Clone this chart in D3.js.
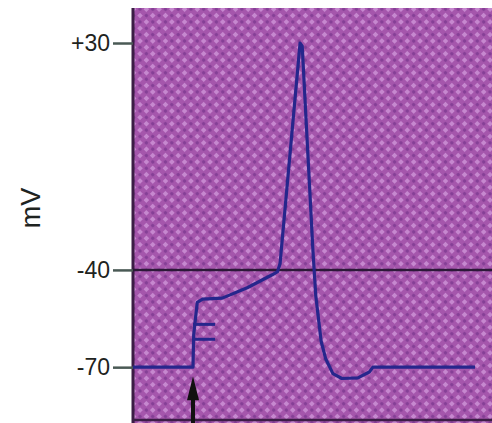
<!DOCTYPE html>
<html>
<head>
<meta charset="utf-8">
<script src="https://cdn.jsdelivr.net/npm/d3@7/dist/d3.min.js"></script>
<style>
  body { margin: 0; background: #fff; }
</style>
</head>
<body>
<div id="maincontainer"></div>
<script>
	// action potential trace, time in ms (arbitrary), voltage in mV
	let timeMs = [0, 1.68, 1.70, 1.80, 1.95, 2.50, 3.20, 3.90, 4.05, 4.12, 4.68, 4.74, 5.04, 5.12, 5.27, 5.40, 5.60, 5.85, 6.30, 6.62, 6.72, 9.58];
	let voltage = [-70, -70, -60, -50, -49, -48.7, -45.5, -41.5, -40.5, -38, 30, 29, -34, -48, -62, -67.5, -72, -73.5, -73.3, -71.5, -70, -70];

	// sub-threshold stimulus responses
	let subStart = [1.68, 1.68];
	let subEnd = [2.30, 2.30];
	let subVolts = [-56.8, -61.4];

	let tickValues = [30, -40, -70];
	let tickLabels = ["+30", "-40", "-70"];
	let thresholdMv = -40;
	let stimulusMs = 1.68;

	let width = 492;
	let height = 423;

	let svg = d3.select("#maincontainer")
		.append("svg")
		.attr("width", width)
		.attr("height", height);

	let x = d3.scaleLinear().domain([0, 10]).range([133, 490]);
	let y = d3.scaleLinear().domain([-86.3, 40.8]).range([420, 8]);

	// speckled purple background
	let defs = svg.append("defs");
	let pat = defs.append("pattern")
		.attr("id", "speck")
		.attr("patternUnits", "userSpaceOnUse")
		.attr("width", 9)
		.attr("height", 9)
		.attr("patternTransform", "rotate(45)");
	pat.append("rect").attr("width", 9).attr("height", 9).attr("fill", "#a556ac");
	pat.append("rect").attr("x", 0).attr("y", 0).attr("width", 4).attr("height", 4).attr("fill", "#c688cf");
	pat.append("circle").attr("cx", 6.5).attr("cy", 6.5).attr("r", 1.8).attr("fill", "#853f96");

	svg.append("rect")
		.attr("x", x(0))
		.attr("y", y(40.8))
		.attr("width", x(10) - x(0) + 2)
		.attr("height", height - y(40.8))
		.attr("fill", "url(#speck)");

	// plot frame (left + bottom)
	svg.append("line")
		.attr("x1", x(0)).attr("x2", x(0))
		.attr("y1", y(40.8)).attr("y2", height)
		.attr("stroke", "#3b1d45").attr("stroke-width", 3);
	svg.append("line")
		.attr("x1", x(0)).attr("x2", width)
		.attr("y1", y(-86.3)).attr("y2", y(-86.3))
		.attr("stroke", "#3b1d45").attr("stroke-width", 2.5);

	// threshold line
	svg.append("line")
		.attr("x1", x(0)).attr("x2", width)
		.attr("y1", y(thresholdMv)).attr("y2", y(thresholdMv))
		.attr("stroke", "#2c1838").attr("stroke-width", 2.5);

	// axis
	let yAxis = d3.axisLeft(y)
		.tickValues(tickValues)
		.tickSize(20)
		.tickPadding(3)
		.tickFormat((d, i) => tickLabels[i]);

	let ax = svg.append("g")
		.attr("transform", "translate(" + x(0) + ",0)")
		.call(yAxis);
	ax.select(".domain").remove();
	ax.selectAll(".tick line").attr("stroke", "#4a5a55").attr("stroke-width", 2.5);
	ax.selectAll(".tick text")
		.attr("fill", "#1e2320")
		.style("font-family", "'Liberation Sans', sans-serif")
		.style("font-size", "23px");

	svg.append("text")
		.attr("transform", "translate(40,208) rotate(-90)")
		.attr("text-anchor", "middle")
		.style("font-family", "'Liberation Sans', sans-serif")
		.style("font-size", "27px")
		.attr("fill", "#1e2320")
		.text("mV");

	// trace
	let trace = timeMs.map((t, i) => [t, voltage[i]]);
	let line = d3.line()
		.x(d => x(d[0]))
		.y(d => y(d[1]));

	svg.append("path")
		.datum(trace)
		.attr("d", line)
		.attr("fill", "none")
		.attr("stroke", "#27268c")
		.attr("stroke-width", 3.2)
		.attr("stroke-linejoin", "round");

	svg.selectAll(".sub")
		.data(subVolts)
		.enter()
		.append("line")
		.attr("class", "sub")
		.attr("x1", (d, i) => x(subStart[i]))
		.attr("x2", (d, i) => x(subEnd[i]))
		.attr("y1", d => y(d))
		.attr("y2", d => y(d))
		.attr("stroke", "#27268c")
		.attr("stroke-width", 3);

	// stimulus arrow
	let ax0 = x(stimulusMs);
	let tipY = y(-72.8);
	svg.append("line")
		.attr("x1", ax0).attr("x2", ax0)
		.attr("y1", height).attr("y2", tipY + 10)
		.attr("stroke", "#111").attr("stroke-width", 4);
	svg.append("path")
		.attr("d", "M" + ax0 + "," + tipY + " L" + (ax0 - 6) + "," + (tipY + 24) + " L" + (ax0 + 6) + "," + (tipY + 24) + " Z")
		.attr("fill", "#111");
</script>
</body>
</html>
